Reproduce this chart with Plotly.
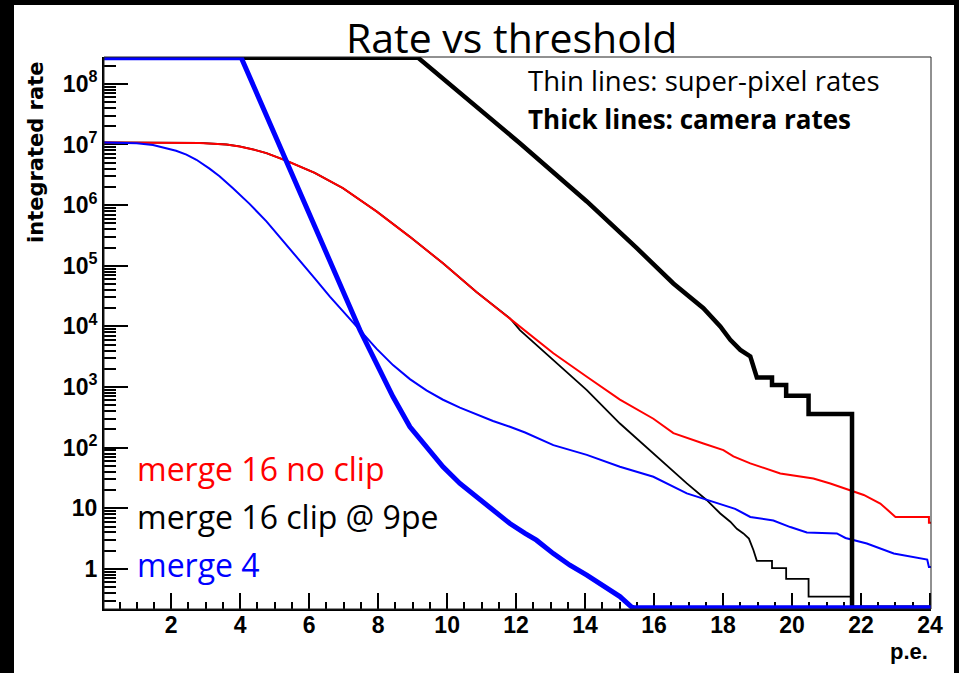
import plotly.graph_objects as go

# ---------------- data ----------------
# thick blue: camera rate, merge 4
cam4_x = [0.05, 4.03, 6.16, 7.47, 7.95, 8.43, 8.92, 9.40, 9.88, 10.37, 10.85, 11.33, 11.82,
          12.26, 12.59, 13.08, 13.56, 14.05, 14.53, 15.01, 15.35, 15.42, 24.03]
cam4_y = [2.69e8, 2.69e8, 4.5e5, 8.7e3, 2.45e3, 690, 221, 104, 48.4, 25.7, 15.5, 9.3, 5.6,
          3.85, 2.98, 1.79, 1.15, 0.79, 0.54, 0.35, 0.235, 0, 0]

# thick black: camera rate, merge 16 clip @ 9pe
cam16_x = [0.05, 9.16, 12.11, 14.05, 15.5, 16.56, 17.43, 17.92, 18.21, 18.5, 18.79, 18.88,
           18.98, 19.42, 19.42, 19.83, 19.83, 20.48, 20.48, 21.74, 21.74, 24.03]
cam16_y = [2.69e8, 2.69e8, 1.05e7, 1.15e6, 1.95e5, 5.1e4, 2.0e4, 1.0e4, 6.0e3, 4.1e3, 3.2e3, 2.2e3,
           1440, 1440, 1080, 1080, 720, 720, 360, 360, 0, 0]

# thin red: super-pixel rate, merge 16 no clip
sp16_x = [0.05, 1.0, 2.0, 2.82, 3.6, 3.98, 4.37, 4.76, 5.34, 5.72, 6.16, 6.98, 7.95, 8.92, 9.88,
          10.85, 11.82, 12.26, 13.08, 14.05, 15.01, 15.98, 16.56, 17.43, 18.01, 18.3, 18.79,
          19.66, 20.62, 21.11, 21.64, 22.08, 22.56, 23.0, 23.97, 23.97, 24.03]
sp16_y = [1.08e7, 1.08e7, 1.07e7, 1.06e7, 1.0e7, 9.3e6, 8.3e6, 7.2e6, 5.4e6, 4.4e6, 3.4e6, 1.9e6,
          7.9e5, 3.0e5, 1.1e5, 3.7e4, 1.36e4, 8.5e3, 3.6e3, 1.48e3, 620, 300, 174, 117, 91, 72,
          55, 37.6, 31, 25.7, 20, 16.6, 12, 7.2, 7.2, 5.8, 5.8]

# thin black: super-pixel rate, merge 16 clip @ 9pe
sp16c_x = [0.05, 1.0, 2.0, 2.82, 3.6, 3.98, 4.37, 4.76, 5.34, 5.72, 6.16, 6.98, 7.95, 8.92, 9.88,
           10.85, 11.82, 12.11, 13.08, 14.05, 15.01, 15.98, 16.95, 17.53, 17.92, 18.21, 18.4,
           18.59, 18.75, 18.88, 18.98, 19.42, 19.42, 19.83, 19.83, 20.48, 20.48, 21.74, 21.74,
           24.03]
sp16c_y = [1.08e7, 1.08e7, 1.07e7, 1.06e7, 1.0e7, 9.3e6, 8.3e6, 7.2e6, 5.4e6, 4.4e6, 3.4e6, 1.9e6,
           7.9e5, 3.0e5, 1.1e5, 3.7e4, 1.36e4, 8.7e3, 2.8e3, 890, 250, 80, 25.7, 13.6, 8.2, 6.0,
           4.6, 3.85, 3.16, 2.05, 1.36, 1.36, 1.03, 1.03, 0.684, 0.684, 0.35, 0.35, 0, 0]

# thin blue: super-pixel rate, merge 4
sp4_x = [0.05, 0.61, 1.0, 1.47, 1.85, 2.14, 2.44, 2.73, 3.11, 3.40, 3.79, 4.27, 4.76, 5.24,
         5.72, 6.16, 6.6, 7.1, 7.47, 7.95, 8.43, 8.92, 9.40, 9.88, 10.37, 10.85, 11.33, 11.82,
         12.26, 13.08, 14.05, 15.01, 15.98, 16.95, 17.72, 18.35, 18.79, 19.46, 19.95, 20.43,
         21.3, 21.55, 22.17, 22.95, 23.92, 23.97, 24.03]
sp4_y = [1.08e7, 1.08e7, 1.05e7, 9.8e6, 8.8e6, 7.9e6, 6.8e6, 5.6e6, 4.0e6, 3.0e6, 1.9e6, 1.05e6,
         5.4e5, 2.6e5, 1.26e5, 6.2e4, 3.1e4, 1.48e4, 8.5e3, 4.3e3, 2.3e3, 1.35e3, 881, 617, 457,
         351, 275, 221, 178, 110, 76, 48.4, 33.1, 17.6, 12.7, 9.8, 7.2, 6.3, 4.9, 4.0, 3.85,
         3.24, 2.63, 1.8, 1.43, 1.08, 1.08]

y_tick_vals = [1, 10, 100, 1e3, 1e4, 1e5, 1e6, 1e7, 1e8]
y_tick_text = ["1", "10", "10<sup>2</sup>", "10<sup>3</sup>", "10<sup>4</sup>",
               "10<sup>5</sup>", "10<sup>6</sup>", "10<sup>7</sup>", "10<sup>8</sup>"]
x_tick_vals = [2, 4, 6, 8, 10, 12, 14, 16, 18, 20, 22, 24]

# ---------------- plotting ----------------
Y_LOG_RANGE = [-0.661, 8.443]
X_RANGE = [0.05, 24.03]
ZERO_DRAWN_AT = 10 ** (-0.64)   # empty bins drawn on the frame floor, as ROOT does


def floor_zero(vals):
    return [v if v > 0 else ZERO_DRAWN_AT for v in vals]


RED, BLUE, BLACK = "#ff0000", "#0000ff", "#000000"

fig = go.Figure()
traces = [
    (sp16c_x, sp16c_y, BLACK, 1.8),
    (sp16_x, sp16_y, RED, 2),
    (sp4_x, sp4_y, BLUE, 2),
    (cam16_x, cam16_y, BLACK, 4.5),
    (cam4_x, cam4_y, BLUE, 5),
]
for xs, ys, col, w in traces:
    fig.add_trace(go.Scatter(x=xs, y=floor_zero(ys), mode="lines",
                             line=dict(color=col, width=w), showlegend=False,
                             hoverinfo="skip"))

# minor log ticks
minor_y = []
for d in range(-1, 9):
    for k in range(2, 10):
        v = k * 10 ** d
        if 10 ** Y_LOG_RANGE[0] < v < 10 ** Y_LOG_RANGE[1]:
            minor_y.append(v)

TICKFONT = dict(family="Liberation Sans, Arial", size=23, color="black", weight="bold")

L_PX, R_PX, T_PX, B_PX = 104, 931, 57, 609
W, H = 959, 673


def fx(px):
    return (px - L_PX) / (R_PX - L_PX)


def fy(py):
    return (B_PX - py) / (B_PX - T_PX)


fig.update_layout(
    width=W, height=H,
    margin=dict(l=L_PX, r=W - R_PX, t=T_PX, b=H - B_PX, pad=0),
    paper_bgcolor="black", plot_bgcolor="white",
    showlegend=False,
    xaxis=dict(range=X_RANGE, showgrid=False, zeroline=False,
               showline=True, linecolor="black", linewidth=2,
               tickmode="array", tickvals=x_tick_vals,
               ticks="inside", ticklen=16, tickwidth=1.5, tickcolor="black",
               minor=dict(dtick=0.5, tick0=0, ticks="inside", ticklen=7,
                          tickwidth=1.5, tickcolor="black", showgrid=False),
               tickfont=TICKFONT, ticklabelstandoff=-6, layer="below traces"),
    yaxis=dict(type="log", range=Y_LOG_RANGE, showgrid=False, zeroline=False,
               showline=True, linecolor="black", linewidth=2,
               tickmode="array", tickvals=y_tick_vals, ticktext=y_tick_text,
               ticks="inside", ticklen=24, tickwidth=1.5, tickcolor="black",
               minor=dict(tickmode="array", tickvals=minor_y, ticks="inside",
                          ticklen=12, tickwidth=1.5, tickcolor="black", showgrid=False),
               tickfont=TICKFONT, layer="below traces"),
)

fig.add_shape(type="rect", xref="paper", yref="paper",
              x0=fx(14), x1=fx(954), y0=fy(H + 5), y1=fy(5),
              fillcolor="white", line=dict(width=0), layer="below")
fig.add_shape(type="rect", xref="paper", yref="paper", x0=0, x1=1, y0=0, y1=1,
              line=dict(color="#222222", width=1), layer="above")

TXT = "Open Sans, Noto Sans, sans-serif"
ann = [
    dict(text="Rate vs threshold", x=fx(511), y=fy(37), xanchor="center", yanchor="middle",
         font=dict(family=TXT, size=41, color="black")),
    dict(text="Thin lines: super-pixel rates", x=fx(526), y=fy(81), xanchor="left",
         yanchor="middle", font=dict(family=TXT, size=27.5, color="black")),
    dict(text="<b>Thick lines: camera rates</b>", x=fx(526), y=fy(119), xanchor="left",
         yanchor="middle", font=dict(family=TXT, size=26, color="black")),
    dict(text="merge 16 no clip", x=fx(135), y=fy(468), xanchor="left", yanchor="middle",
         font=dict(family=TXT, size=32, color=RED)),
    dict(text="merge 16 clip @ 9pe", x=fx(135), y=fy(516), xanchor="left", yanchor="middle",
         font=dict(family=TXT, size=32, color=BLACK)),
    dict(text="merge 4", x=fx(135), y=fy(564), xanchor="left", yanchor="middle",
         font=dict(family=TXT, size=32, color=BLUE)),
    dict(text="<b>integrated rate</b>", x=fx(35.5), y=fy(60), xanchor="center", yanchor="top",
         textangle=-90,
         font=dict(family="DejaVu Sans, Liberation Sans", size=21, color="black")),
    dict(text="<b>p.e.</b>", x=fx(930), y=fy(651), xanchor="right", yanchor="middle",
         font=dict(family="Liberation Sans, Arial", size=22, color="black")),
]
for a in ann:
    fig.add_annotation(xref="paper", yref="paper", showarrow=False, **a)

fig.write_html("out.html")
